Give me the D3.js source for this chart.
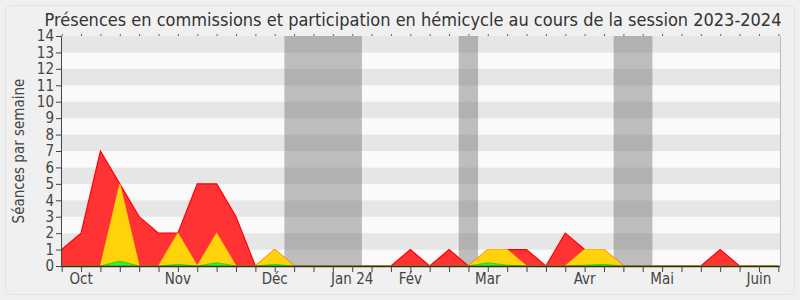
<!DOCTYPE html>
<html>
<head>
<meta charset="utf-8">
<script src="https://cdn.jsdelivr.net/npm/d3@7"></script>
<style>
  body { margin: 0; background: #fff; }
  svg { display: block; font-family: "DejaVu Sans Condensed", "DejaVu Sans", sans-serif; }
</style>
</head>
<body>
<script>
  // weekly values, session 2023-2024 (one point per week)
  const commissions = [1, 2, 7, 5, 3, 2, 2, 5, 5, 3, 0, 1, 0, 0, 0, 0, 0, 0, 1, 0, 1, 0, 1, 1, 1, 0, 2, 1, 1, 0, 0, 0, 0, 0, 1, 0, 0, 0];
  const hemicycle = [0, 0, 0, 5, 0, 0, 2, 0, 2, 0, 0, 1, 0, 0, 0, 0, 0, 0, 0, 0, 0, 0, 1, 1, 0, 0, 0, 1, 1, 0, 0, 0, 0, 0, 0, 0, 0, 0];
  const questions = [0, 0, 0, 0.3, 0, 0, 0.1, 0, 0.2, 0, 0, 0.1, 0, 0, 0, 0, 0, 0, 0, 0, 0, 0, 0.2, 0.05, 0, 0, 0, 0.05, 0.1, 0, 0, 0, 0, 0, 0, 0, 0, 0];
  // holiday periods, in week index units
  const vacances = [[11.5, 15.5], [20.5, 21.5], [28.5, 30.5]];
  const monthLabels = ["Oct", "Nov", "Déc", "Jan 24", "Fév", "Mar", "Avr", "Mai", "Juin"];
  const monthWeeks = [1, 6, 11, 15, 18, 22, 27, 31, 36];
  const yTicks = d3.range(0, 15);

  const W = 800, H = 300;
  const margin = { top: 36, right: 20, bottom: 34, left: 61 };
  const width = W - margin.left - margin.right;
  const height = H - margin.top - margin.bottom;

  const svg = d3.select('body').append('svg').attr('width', W).attr('height', H);

  // outer frame
  svg.append('rect').attr('width', W).attr('height', H).attr('fill', '#f0f0f0');
  svg.append('rect').attr('x', 5.5).attr('y', 5.5).attr('width', W - 11).attr('height', H - 11)
    .attr('rx', 5).attr('fill', '#f0f0f0').attr('stroke', '#e2e2e2');

  const x = d3.scaleLinear().domain([0, commissions.length - 1]).range([0.7, width - 1.7]);
  const y = d3.scaleLinear().domain([0, 14]).range([height, 0]);

  const g = svg.append('g').attr('transform', `translate(${margin.left},${margin.top})`);

  // horizontal stripes
  g.selectAll('.band').data(d3.range(0, 14)).enter().append('rect')
    .attr('x', 0).attr('width', width)
    .attr('y', d => y(d + 1)).attr('height', d => y(d) - y(d + 1))
    .attr('fill', d => d % 2 ? '#e6e6e6' : '#fafafa');

  // holidays
  g.selectAll('.vac').data(vacances).enter().append('rect')
    .attr('x', d => x(d[0])).attr('width', d => x(d[1]) - x(d[0]))
    .attr('y', 0).attr('height', height)
    .attr('fill', 'rgba(97,97,97,0.4)');

  const area = d3.area().x((d, i) => x(i)).y0(y(0)).y1(d => y(d));
  const line = d3.line().x((d, i) => x(i)).y(d => y(d));

  g.append('path').datum(commissions).attr('d', area).attr('fill', '#ff3333');
  g.append('path').datum(commissions).attr('d', line).attr('fill', 'none').attr('stroke', '#ff0000').attr('stroke-width', 1.2);
  g.append('path').datum(hemicycle).attr('d', area).attr('fill', '#ffd20a');
  g.append('path').datum(hemicycle).attr('d', line).attr('fill', 'none').attr('stroke', '#ffee00').attr('stroke-opacity', 0.55).attr('stroke-width', 1.2);
  g.append('path').datum(questions).attr('d', area).attr('fill', '#33ee33');
  g.append('path').datum(questions).attr('d', line).attr('fill', 'none').attr('stroke', '#00cc00').attr('stroke-opacity', 0.6).attr('stroke-width', 1);

  // bottom axis line and week ticks
  g.append('line').attr('x1', 0).attr('x2', width).attr('y1', height + 0.5).attr('y2', height + 0.5)
    .attr('stroke', '#3a2a10').attr('stroke-width', 1.3);
  g.append('g').attr('transform', `translate(0,${height})`)
    .call(d3.axisBottom(x).tickValues(d3.range(commissions.length)).tickSize(6).tickFormat(''))
    .call(a => a.select('.domain').remove())
    .call(a => a.selectAll('line').attr('stroke', '#444'));
  g.append('g')
    .call(d3.axisTop(x).tickValues(d3.range(commissions.length)).tickSize(2).tickFormat(''))
    .call(a => a.select('.domain').remove())
    .call(a => a.selectAll('line').attr('stroke', '#666'));

  // month labels
  g.selectAll('.month').data(monthLabels).enter().append('text')
    .attr('x', (d, i) => x(monthWeeks[i])).attr('y', height + 18)
    .attr('text-anchor', 'middle').attr('font-size', 15).attr('fill', '#444')
    .text(d => d);

  // right border of plot
  g.append('line').attr('x1', width + 0.5).attr('x2', width + 0.5).attr('y1', 0).attr('y2', height)
    .attr('stroke', '#bbb');

  // y axis
  g.append('g')
    .call(d3.axisLeft(y).tickValues(yTicks).tickSize(5).tickPadding(2).tickFormat(d3.format('d')))
    .call(a => a.select('.domain').attr('stroke', '#444'))
    .call(a => a.selectAll('line').attr('stroke', '#444'))
    .call(a => a.selectAll('text').attr('font-size', 15).attr('fill', '#444')
      .attr('font-family', '"DejaVu Sans Condensed", "DejaVu Sans", sans-serif'));

  svg.append('text').attr('transform', `translate(24,${margin.top + height / 2}) rotate(-90)`)
    .attr('text-anchor', 'middle').attr('font-size', 15).attr('fill', '#444')
    .text('Séances par semaine');

  svg.append('text').attr('x', 413).attr('y', 25.5).attr('text-anchor', 'middle')
    .attr('font-size', 18).attr('fill', '#333')
    .text('Présences en commissions et participation en hémicycle au cours de la session 2023-2024');
</script>
</body>
</html>
